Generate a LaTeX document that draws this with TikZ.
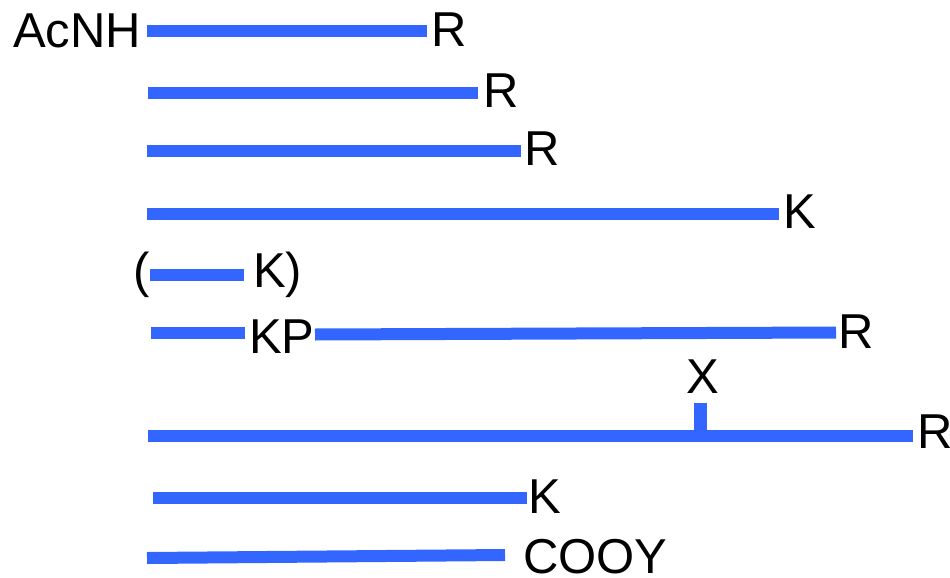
\documentclass[tikz,border=0pt]{standalone}
\usepackage{fontspec}
\setmainfont{Liberation Sans}
\definecolor{barblue}{RGB}{51,102,255}
\begin{document}
\begin{tikzpicture}[x=1pt,y=-1pt,
  bar/.style={draw=barblue,line width=12pt,line cap=butt},
  lbl/.style={anchor=base west,inner sep=0pt,outer sep=0pt,font=\fontsize{49}{59}\selectfont}]
\useasboundingbox (0,0) rectangle (950,578);
% labels
\node[lbl] (acnh) at (13,48) {AcNH};
\node[lbl] (r1) at (431,47) {R};
\node[lbl] (r2) at (483,107) {R};
\node[lbl] (r3) at (524,165) {R};
\node[lbl] (k4) at (783,228) {K};
\node[lbl] (lp) at (133,287) {(};
\node[lbl] (k5) at (253,287) {K)};
\node[lbl] (kp) at (249,353) {KP};
\node[lbl] (r6) at (838,348) {R};
\node[lbl] (x7) at (686,393) {X};
\node[lbl] (r7) at (917,448) {R};
\node[lbl] (k8) at (528,513) {K};
\node[lbl] (cooy) at (523,573) {COOY};
% bar ends
\coordinate (a1) at (147,31);   \coordinate (b1) at (427,31);
\coordinate (a2) at (148,92.5); \coordinate (b2) at (478,92.5);
\coordinate (a3) at (147,151);  \coordinate (b3) at (521,151);
\coordinate (a4) at (147,213.5);\coordinate (b4) at (779,213.5);
\coordinate (a5) at (150,274.5);\coordinate (b5) at (244,274.5);
\coordinate (a6) at (151,333);  \coordinate (b6) at (245,333);
\coordinate (c6) at (315,334.5);\coordinate (d6) at (836,332.5);
\coordinate (a7) at (148,436);  \coordinate (b7) at (913,436);
\coordinate (t7) at (700,403);  \coordinate (u7) at (700,436);
\coordinate (a8) at (153,498);  \coordinate (b8) at (527,498);
\coordinate (a9) at (147,558);  \coordinate (b9) at (505,555);
% bars
\draw[bar] (a1) -- (b1);
\draw[bar] (a2) -- (b2);
\draw[bar] (a3) -- (b3);
\draw[bar] (a4) -- (b4);
\draw[bar] (a5) -- (b5);
\draw[bar] (a6) -- (b6);
\draw[bar] (c6) -- (d6);
\draw[bar] (a7) -- (b7);
\draw[bar,line width=13pt] (t7) -- (u7);
\draw[bar] (a8) -- (b8);
\draw[bar] (a9) -- (b9);
\end{tikzpicture}
\end{document}
